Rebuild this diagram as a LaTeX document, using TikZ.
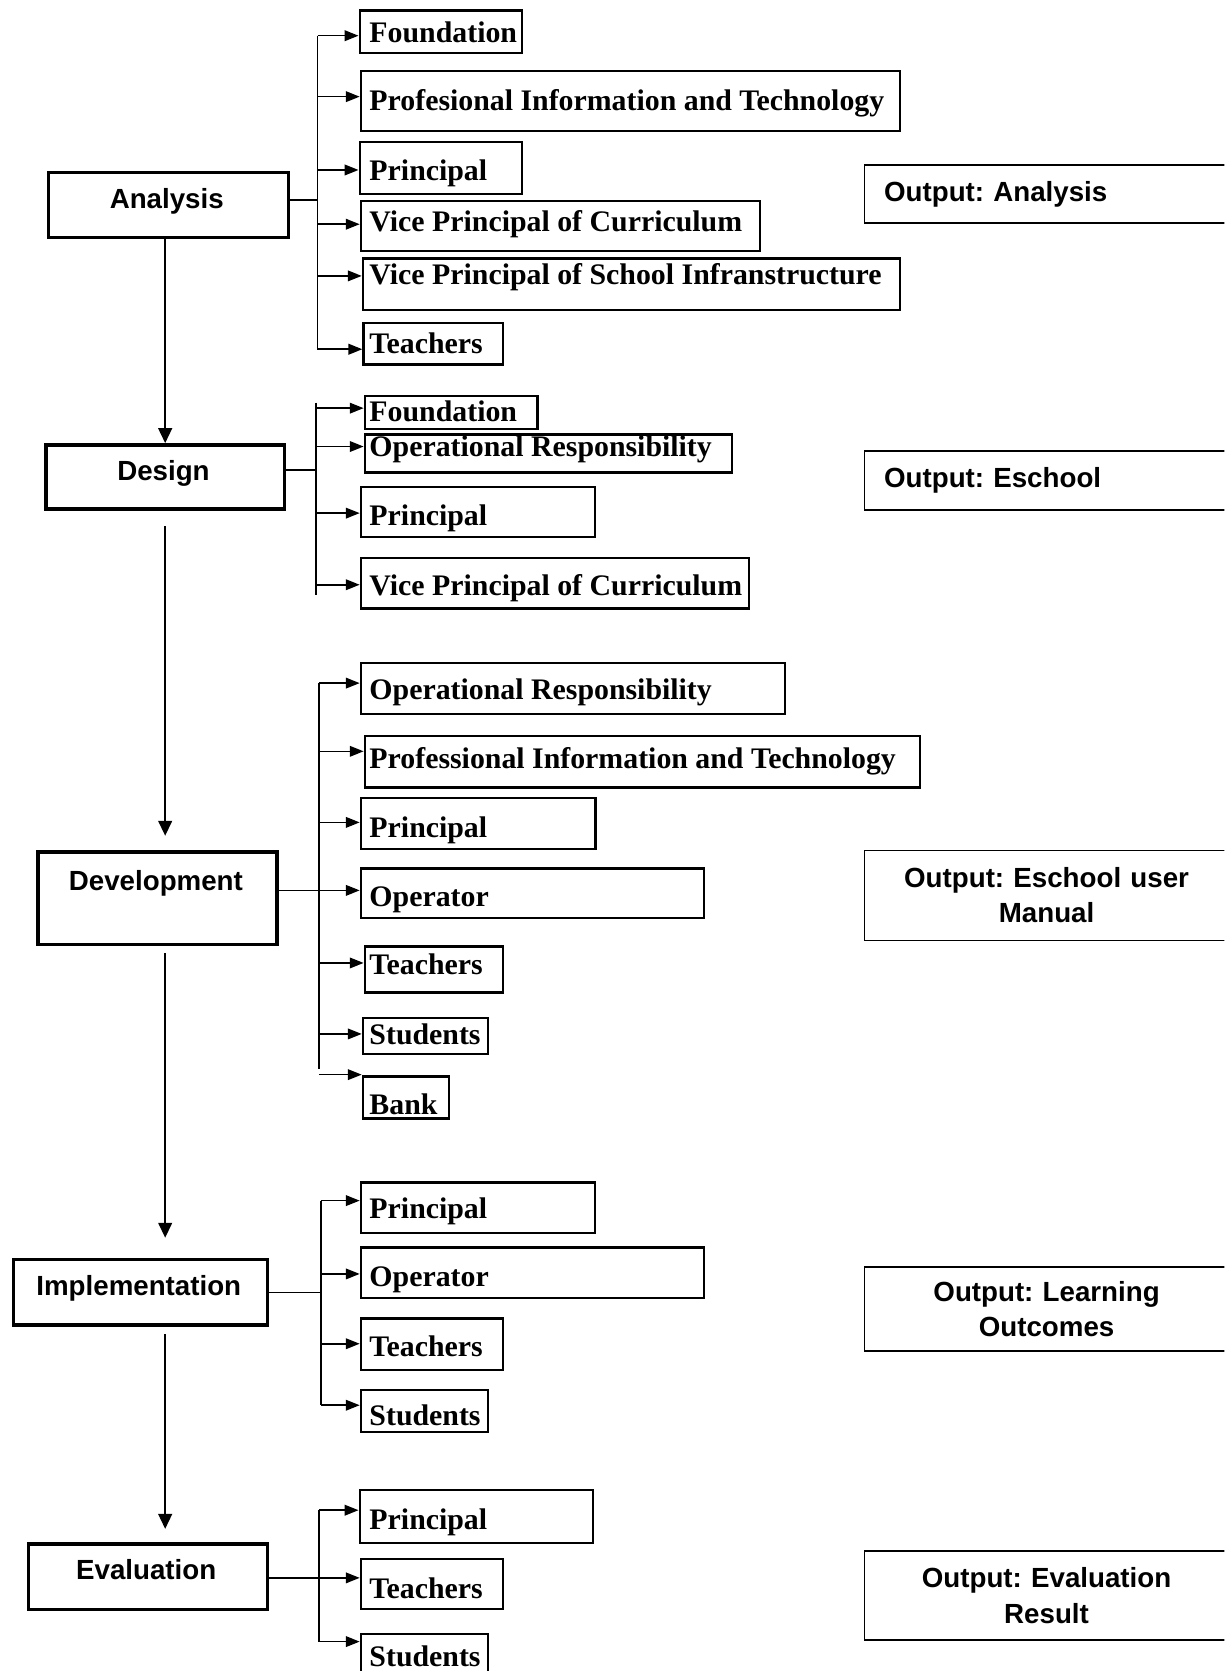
\documentclass[tikz,border=0pt]{standalone}
\usepackage{fontspec}
\setmainfont{Liberation Serif}
\setsansfont{Liberation Sans}
\usetikzlibrary{arrows.meta}
\frenchspacing
\newcommand\chfont{\rmfamily\bfseries\fontsize{28}{30}\selectfont}
\newcommand\phfont{\sffamily\bfseries\fontsize{26}{30}\selectfont}
\newcommand\oufont{\sffamily\bfseries\fontsize{26}{33}\selectfont}
\tikzset{
  phase/.style={draw, line width=3.2pt, inner sep=0pt, anchor=north west},
  cbox/.style={draw, line width=2.2pt, inner sep=0pt, anchor=north west},
  obox/.style={draw, line width=1.6pt, inner sep=0pt, anchor=north west, font=\oufont, minimum width=341.5pt, text width=341.5pt, align=center},
  oboxl/.style={obox, inner xsep=18.3pt, text width=304.9pt, align=left},
  ctext/.style={inner sep=0pt, font=\chfont, anchor=base west},
  ptext/.style={inner sep=0pt, font=\phfont, anchor=base},
  conn/.style={line width=1.5pt},
  farr/.style={line width=1.5pt, -{Triangle[length=13pt,width=10pt]}},
  marr/.style={line width=1.5pt, -{Triangle[length=14pt,width=13pt]}},
}
% name, left, top, right, bottom, baseline, text
\newcommand\childbox[7]{%
  \node[cbox, minimum width={#4pt-#2pt}, minimum height={#5pt-#3pt}] (#1) at (#2,#3) {};
  \node[ctext] (#1t) at (346.5,#6) {#7};}
% name, left, top, right, bottom, centre x, baseline, text
\newcommand\phasebox[8]{%
  \node[phase, minimum width={#4pt-#2pt}, minimum height={#5pt-#3pt}] (#1) at (#2,#3) {};
  \node[ptext] (#1t) at (#6,#7) {#8};}
% target, bus x, y
\newcommand\feed[3]{%
  \coordinate (#1b) at (#2,#3);
  \draw[farr] (#1b) -- (#1.west |- #1b);}
\begin{document}
\begin{tikzpicture}[x=1pt,y=-1pt]
\useasboundingbox (0,0) rectangle (1149,1568);
\clip (0,0) rectangle (1149,1568);

% ---------- phase boxes ----------
\phasebox{A}{44}{160.5}{268.9}{221.5}{156.5}{195.4}{Analysis}
\phasebox{D}{41.5}{415.8}{265.2}{476.2}{153.4}{451}{Design}
\phasebox{V}{34.1}{798}{258.5}{884.8}{146.3}{835.5}{Development}
\phasebox{I}{11.1}{1180.5}{249.2}{1241.8}{130.2}{1215.4}{Implementation}
\phasebox{E}{25.2}{1447.3}{249.2}{1508.6}{137.2}{1482.2}{Evaluation}

% ---------- main flow ----------
\coordinate (vx) at (155,0);
\coordinate (d1s) at (155,494);   \coordinate (d1e) at (155,784.2);
\coordinate (v1s) at (155,894.2); \coordinate (v1e) at (155,1161.4);
\coordinate (i1s) at (155,1252);  \coordinate (i1e) at (155,1434.6);
\draw[marr] (A.south -| vx) -- (D.north -| vx);
\draw[marr] (d1s) -- (d1e);
\draw[marr] (v1s) -- (v1e);
\draw[marr] (i1s) -- (i1e);

% ---------- Analysis ----------
\childbox{a1}{336.4}{8.8}{488.5}{48.5}{39.5}{Foundation}
\childbox{a2}{337.5}{65.7}{843.2}{122}{103.5}{Profesional Information and Technology}
\childbox{a3}{336.4}{132}{488.5}{180.7}{169.5}{Principal}
\childbox{a4}{337.5}{187.6}{712.3}{234.5}{217.5}{Vice Principal of Curriculum}
\childbox{a5}{339.4}{241.4}{843.2}{290}{266.8}{Vice Principal of School Infranstructure}
\childbox{a6}{340}{301.7}{471}{340.8}{331.5}{Teachers}
\coordinate (aTop) at (298,33.5); \coordinate (aBot) at (298,328);
\coordinate (aH) at (298,187.6);
\draw[conn] (aTop) -- (aBot);
\draw[conn] (A.east |- aH) -- (aH);
\feed{a1}{298}{33.5}
\feed{a2}{298}{90.7}
\feed{a3}{298}{159.5}
\feed{a4}{298}{210.4}
\feed{a5}{298}{258.9}
\feed{a6}{298}{327.7}

% ---------- Design ----------
\childbox{d1}{341.2}{370.5}{503.3}{401.2}{395.5}{Foundation}
\childbox{d2}{341.2}{406.5}{686}{442.4}{428}{Operational Responsibility}
\childbox{d3}{337.5}{455.9}{557.5}{502.8}{493.5}{Principal}
\childbox{d4}{337.5}{522.2}{702}{570}{558.5}{Vice Principal of Curriculum}
\coordinate (dTop) at (296.7,377.7); \coordinate (dBot) at (296.7,558.1);
\coordinate (dH) at (296.7,440.9);
\draw[conn] (dTop) -- (dBot);
\draw[conn] (D.east |- dH) -- (dH);
\feed{d1}{296.7}{383}
\feed{d2}{296.7}{419}
\feed{d3}{296.7}{481.5}
\feed{d4}{296.7}{548.7}

% ---------- Development ----------
\childbox{v1}{337.5}{621.3}{735.3}{669.1}{656.6}{Operational Responsibility}
\childbox{v2}{341.2}{689.4}{862}{737.9}{721.5}{Professional Information and Technology}
\childbox{v3}{337.5}{747.9}{557.6}{795.7}{785.4}{Principal}
\childbox{v4}{337.5}{813.9}{659.3}{860.4}{850.5}{Operator}
\childbox{v5}{341.2}{887}{471}{930.2}{914.5}{Teachers}
\childbox{v6}{339.4}{954.3}{456.9}{988}{980.3}{Students}
\childbox{v7}{339.4}{1009}{420.2}{1048.4}{1045.5}{Bank}
\coordinate (vTop) at (299.3,641); \coordinate (vBot) at (299.3,1003);
\coordinate (vH) at (299.3,835.5);
\draw[conn] (vTop) -- (vBot);
\draw[conn] (V.east |- vH) -- (vH);
\feed{v1}{299.3}{641}
\feed{v2}{299.3}{705}
\feed{v3}{299.3}{771.7}
\feed{v4}{299.3}{835.5}
\feed{v5}{299.3}{903.6}
\feed{v6}{299.3}{970.2}
\feed{v7}{299.3}{1008.4}

% ---------- Implementation ----------
\childbox{i1}{337.5}{1108.4}{557.5}{1156}{1143.5}{Principal}
\childbox{i2}{337.5}{1169.4}{659.3}{1217.1}{1207.5}{Operator}
\childbox{i3}{337.5}{1236.1}{471}{1284.4}{1272.5}{Teachers}
\childbox{i4}{337.5}{1303.5}{456.9}{1342.5}{1337.5}{Students}
\coordinate (iTop) at (301.2,1126.6); \coordinate (iBot) at (301.2,1318.6);
\coordinate (iH) at (301.2,1212.9);
\draw[conn] (iTop) -- (iBot);
\draw[conn] (I.east |- iH) -- (iH);
\feed{i1}{301.2}{1126.6}
\feed{i2}{301.2}{1195.4}
\feed{i3}{301.2}{1260.9}
\feed{i4}{301.2}{1318.6}

% ---------- Evaluation ----------
\childbox{e1}{336.4}{1397.1}{555.6}{1446.7}{1435.5}{Principal}
\childbox{e2}{337.5}{1461.6}{471}{1508.6}{1499.5}{Teachers}
\childbox{e3}{337.5}{1532.1}{456.9}{1590}{1563.5}{Students}
\coordinate (eTop) at (299.3,1417.1); \coordinate (eBot) at (299.3,1540.4);
\coordinate (eH) at (299.3,1480.6);
\draw[conn] (eTop) -- (eBot);
\draw[conn] (E.east |- eH) -- (eH);
\feed{e1}{299.3}{1417.1}
\feed{e2}{299.3}{1480.6}
\feed{e3}{299.3}{1540.4}

% ---------- outputs ----------
\node[oboxl, minimum height=54.7pt] (oA) at (810.5,153.8) {Output: Analysis};
\node[oboxl, minimum height=55.1pt] (oD) at (810.5,422.7) {Output: Eschool};
\node[obox, minimum height=84.4pt] (oV) at (810.5,797.3) {Output: Eschool user\\Manual};
\node[obox, minimum height=78.7pt] (oI) at (810.5,1188.2) {Output: Learning\\Outcomes};
\node[obox, minimum height=83.8pt] (oE) at (810.5,1454.5) {Output: Evaluation\\Result};
\end{tikzpicture}
\end{document}
